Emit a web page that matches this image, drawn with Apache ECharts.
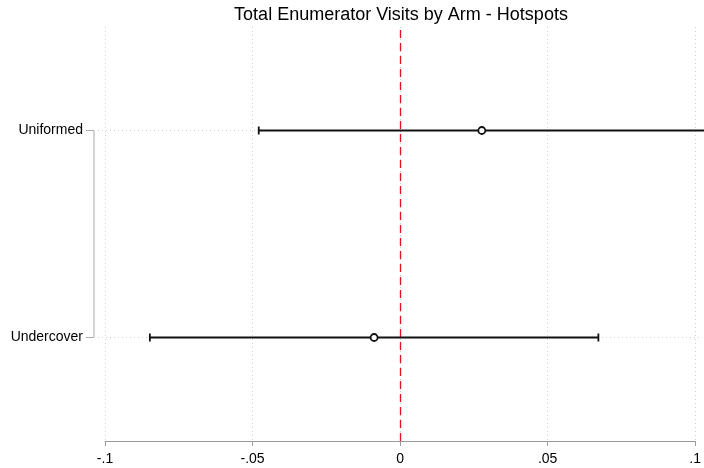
<!DOCTYPE html>
<html>
<head>
<meta charset="utf-8">
<script src="https://cdn.jsdelivr.net/npm/echarts@6/dist/echarts.min.js"></script>
<style>
  html, body { margin: 0; padding: 0; background: #fff; }
  #chart { width: 704px; height: 468px; }
</style>
</head>
<body>
<div id="chart"></div>
<script>
// arms, bottom to top
var arms = ['Undercover', 'Uniformed'];
var armPos = [1, 2];
var estimates = [-0.0088, 0.0277];
var lowers = [-0.0848, -0.0479];
var uppers = [0.0672, 0.1033];
var xTicks = [-0.1, -0.05, 0, 0.05, 0.1];

var rows = arms.map(function (a, i) {
  return [armPos[i], lowers[i], uppers[i], estimates[i]];
});

function stataNum(v) {
  v = Math.round(v * 1000) / 1000;
  if (v === 0) return '0';
  var s = String(Math.abs(v)).replace(/^0/, '');
  return (v < 0 ? '-' : '') + s;
}

var chart = echarts.init(document.getElementById('chart'), null, { renderer: 'canvas' });

var option = {
  animation: false,
  backgroundColor: '#fff',
  textStyle: { fontFamily: 'Liberation Sans, Arial, sans-serif' },
  title: {
    // sits over the middle of the plot area, not the page
    text: 'Total Enumerator Visits by Arm - Hotspots',
    left: 401, textAlign: 'center', top: 6, padding: 0,
    textStyle: { fontSize: 18, fontWeight: 'normal', color: '#000', fontFamily: 'Liberation Sans, Arial, sans-serif' }
  },
  grid: { left: 105, right: 7, top: 27, bottom: 27 },
  xAxis: {
    type: 'value',
    min: xTicks[0], max: xTicks[xTicks.length - 1], interval: 0.05,
    axisLine: { show: true, lineStyle: { color: '#9a9a9a', width: 1 } },
    axisTick: { show: true, length: 5, lineStyle: { color: '#9a9a9a' } },
    axisLabel: { fontSize: 14, color: '#000', margin: 11, formatter: stataNum,
                 fontFamily: 'Liberation Sans, Arial, sans-serif' },
    splitLine: { show: true, lineStyle: { color: '#cfcfcf', type: [1, 3], width: 1 } }
  },
  yAxis: {
    type: 'value',
    min: 0.5, max: 2.5,
    offset: 11,
    axisLine: { show: false },
    axisTick: { show: false },
    axisLabel: {
      show: true, customValues: armPos, fontSize: 14, color: '#000', margin: 11,
      fontFamily: 'Liberation Sans, Arial, sans-serif',
      formatter: function (v) { return arms[armPos.indexOf(Math.round(v))] || ''; }
    },
    splitLine: { show: false }
  },
  series: [
    {
      // horizontal dotted guides + left bracket of the category axis
      type: 'custom',
      clip: false,
      silent: true,
      z: 1,
      data: rows,
      renderItem: function (params, api) {
        var cs = params.coordSys;
        var p = api.coord([0, api.value(0)]);
        var axisX = cs.x - 11;
        var children = [{
          type: 'line',
          shape: { x1: cs.x - 7, y1: p[1], x2: cs.x + cs.width + 7, y2: p[1] },
          style: { stroke: '#cfcfcf', lineWidth: 1, lineDash: [1, 3] }
        }, {
          type: 'line',
          shape: { x1: axisX - 8, y1: p[1], x2: axisX, y2: p[1] },
          style: { stroke: '#aaaaaa', lineWidth: 1 }
        }];
        if (params.dataIndex === 0) {
          var top = api.coord([0, armPos[armPos.length - 1]]);
          children.push({
            type: 'line',
            shape: { x1: axisX, y1: top[1], x2: axisX, y2: p[1] },
            style: { stroke: '#aaaaaa', lineWidth: 1 }
          });
        }
        return { type: 'group', children: children };
      }
    },
    {
      type: 'custom',
      clip: false,
      z: 5,
      data: rows,
      renderItem: function (params, api) {
        var y = api.value(0);
        var a = api.coord([api.value(1), y]);
        var b = api.coord([api.value(2), y]);
        var c = api.coord([api.value(3), y]);
        var st = { stroke: '#111', lineWidth: 1.8 };
        return {
          type: 'group',
          children: [
            { type: 'line', shape: { x1: a[0], y1: a[1], x2: b[0], y2: b[1] }, style: st },
            { type: 'line', shape: { x1: a[0], y1: a[1] - 4, x2: a[0], y2: a[1] + 4 }, style: st },
            { type: 'line', shape: { x1: b[0], y1: b[1] - 4, x2: b[0], y2: b[1] + 4 }, style: st },
            { type: 'circle', shape: { cx: c[0], cy: c[1], r: 3.5 },
              style: { fill: '#fff', stroke: '#111', lineWidth: 1.8 } }
          ]
        };
      },
      markLine: {
        silent: true,
        symbol: 'none',
        label: { show: false },
        lineStyle: { color: '#e3121b', type: [8, 5], width: 1.3 },
        data: [{ xAxis: 0 }]
      }
    }
  ]
};

chart.setOption(option);
</script>
</body>
</html>
